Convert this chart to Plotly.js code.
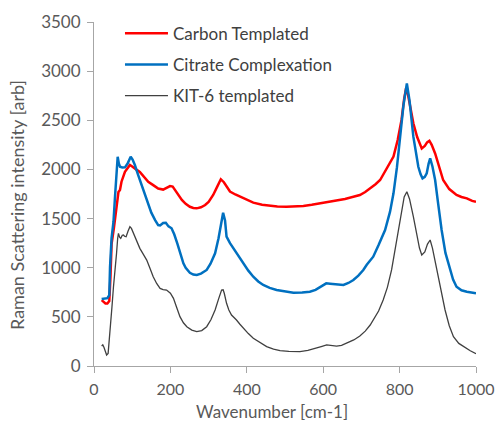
<!DOCTYPE html>
<html>
<head>
<meta charset="utf-8">
<script src="https://cdn.plot.ly/plotly-3.0.1.min.js"></script>
<style>html,body{margin:0;padding:0;background:#fff;}#chart{width:496px;height:425px;}</style>
</head>
<body>
<div id="chart"></div>
<script>
const seriesNames = ["Carbon Templated", "Citrate Complexation", "KIT-6 templated"];

const carbonX = [20,25,30,35,40,43,46,52,59,64,68,72,81,88,94,100,106,112,120,130,142,155,168,181,190,199,206,212,220,230,240,251,260,269,280,291,300,312,322,332,340,347,356,370,382,400,417,440,461,480,504,525,548,570,592,615,635,657,679,696,710,723,737,749,762,775,784,795,805,812,817,822,828,836,846,858,866,872,878,884,893,903,914,930,949,962,976,990,1000];
const carbonY = [670,650,636,636,660,900,1240,1400,1620,1770,1790,1875,1975,2020,2045,2030,2010,1995,1975,1930,1875,1840,1805,1795,1810,1830,1825,1790,1740,1690,1650,1620,1608,1604,1615,1638,1670,1740,1820,1900,1870,1824,1775,1745,1722,1690,1662,1640,1628,1622,1620,1622,1628,1640,1655,1668,1682,1700,1722,1740,1770,1807,1850,1892,1980,2070,2130,2300,2503,2720,2825,2760,2620,2470,2330,2214,2240,2275,2292,2250,2163,2030,1892,1800,1740,1720,1706,1680,1670];

const citrateX = [20,25,30,35,40,42,46,51,55,58,62,65,68,74,81,88,96,101,107,115,125,134,142,150,160,168,173,181,188,195,203,210,218,228,234,240,251,260,269,280,295,305,317,326,334,338,343,347,356,365,373,382,391,404,417,430,443,460,478,500,522,545,565,580,592,600,608,618,626,640,653,666,679,692,705,714,723,731,745,762,775,784,793,801,810,819,826,836,843,849,855,860,866,871,876,880,886,893,901,910,920,932,940,949,962,976,990,1000];
const citrateY = [682,685,688,690,720,1010,1300,1468,1722,1950,2129,2060,2027,2020,2021,2060,2129,2100,2045,1950,1841,1740,1638,1560,1485,1434,1430,1455,1458,1420,1401,1340,1248,1130,1045,1000,949,930,926,940,977,1040,1147,1300,1480,1560,1480,1316,1250,1197,1163,1110,1045,970,908,860,824,795,773,758,746,748,756,775,807,828,841,838,834,828,824,845,875,920,977,1030,1078,1112,1230,1384,1570,1757,2020,2333,2650,2876,2700,2333,2150,2027,1950,1909,1925,1960,2060,2112,2030,1892,1650,1384,1150,977,880,807,770,756,745,739];

const kitX = [20,23,26,30,33,37,42,47,51,55,59,62,64,67,70,74,77,80,84,89,94,98,103,110,120,130,138,146,155,164,173,181,190,200,208,216,225,234,243,256,269,282,295,306,317,326,334,338,341,347,353,360,366,373,382,391,404,417,435,452,470,487,510,539,560,583,597,609,622,635,648,662,680,696,710,723,731,745,757,768,779,789,797,805,812,819,826,836,846,852,858,866,873,880,886,891,897,908,919,930,941,955,967,985,1000];
const kitY = [203,215,190,130,112,128,333,600,807,950,1146,1300,1350,1310,1299,1330,1333,1320,1316,1370,1417,1400,1350,1280,1197,1130,1078,1000,908,840,790,778,773,740,688,600,502,440,400,365,349,360,400,470,570,680,773,775,740,638,570,519,490,468,425,383,330,282,235,197,172,156,148,146,158,180,200,214,208,203,210,231,265,305,355,417,468,560,671,800,977,1200,1417,1600,1720,1773,1700,1519,1300,1200,1129,1160,1240,1282,1200,1100,977,760,570,410,298,230,197,155,125];

const xTitle = "Wavenumber [cm-1]";
const yTitle = "Raman Scattering intensity [arb]";
const xTicks = [0,200,400,600,800,1000];
const yTicks = [0,500,1000,1500,2000,2500,3000,3500];

const FONT = "Lato, 'Open Sans', sans-serif";

const traces = [
  {x: carbonX, y: carbonY, name: seriesNames[0], legendgroup: "a", type: "scatter", mode: "lines", line: {color: "#ff0000", width: 2.5}},
  {x: citrateX, y: citrateY, name: seriesNames[1], legendgroup: "b", type: "scatter", mode: "lines", line: {color: "#0070c0", width: 2.5}},
  {x: kitX, y: kitY, name: seriesNames[2], legendgroup: "c", type: "scatter", mode: "lines", line: {color: "#404040", width: 1.3}}
];

const layout = {
  width: 496, height: 425,
  margin: {l: 94, r: 20, t: 22, b: 59, pad: 0},
  paper_bgcolor: "#ffffff", plot_bgcolor: "#ffffff",
  font: {family: FONT, size: 16, color: "#595959"},
  showlegend: true,
  legend: {x: 0.068, y: 1.018, xanchor: "left", yanchor: "top", bgcolor: "rgba(0,0,0,0)",
           font: {family: FONT, size: 17, color: "#404040"}, tracegroupgap: 6, traceorder: "grouped", itemwidth: 43},
  xaxis: {range: [0, 1000], tickvals: xTicks, showgrid: false, zeroline: false,
          showline: true, linecolor: "#a6a6a6", linewidth: 1, ticks: "outside", ticklen: 6, tickcolor: "#a6a6a6",
          ticklabelstandoff: 3,
          tickfont: {family: FONT, size: 16, color: "#595959"}, fixedrange: true},
  yaxis: {range: [0, 3500], tickvals: yTicks, showgrid: false, zeroline: false,
          showline: true, linecolor: "#a6a6a6", linewidth: 1, ticks: "outside", ticklen: 6, tickcolor: "#a6a6a6",
          ticklabelstandoff: 3,
          tickfont: {family: FONT, size: 17, color: "#595959"}, fixedrange: true},
  annotations: [
    {text: xTitle, xref: "paper", yref: "paper", x: 0.466, y: -0.1337, xanchor: "center", yanchor: "middle",
     showarrow: false, font: {family: FONT, size: 17, color: "#595959"}},
    {text: yTitle, xref: "paper", yref: "paper", x: -0.2016, y: 0.468, xanchor: "center", yanchor: "middle",
     textangle: -90, showarrow: false, font: {family: FONT, size: 18, color: "#595959"}}
  ]
};

Plotly.newPlot("chart", traces, layout, {displayModeBar: false, staticPlot: true});
</script>
</body>
</html>
